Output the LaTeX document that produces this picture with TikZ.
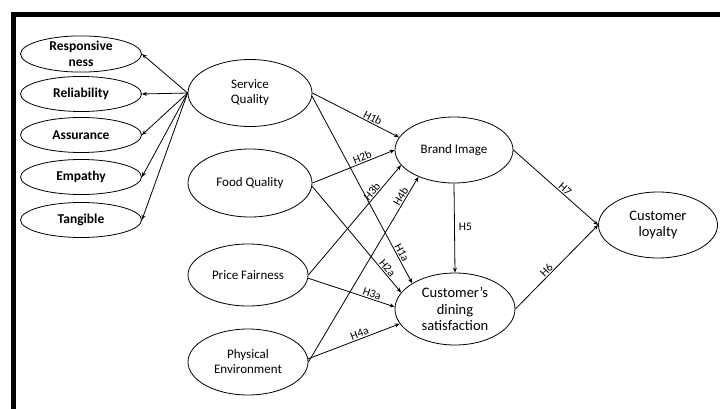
\documentclass[tikz,border=0pt]{standalone}
\usepackage{fontspec}
\setmainfont{Carlito}
\usetikzlibrary{shapes.geometric,arrows.meta}
\tikzset{
  ell/.style={draw, ellipse, line width=0.8pt, inner sep=0pt, align=center},
  dim/.style={ell, minimum width=121pt, minimum height=35pt, font=\bfseries\fontsize{13.5}{16}\selectfont},
  mid/.style={ell, minimum width=122pt, minimum height=66pt, font=\fontsize{13}{15}\selectfont},
  big/.style={ell, minimum width=119pt, minimum height=66pt, font=\fontsize{14.5}{16.7}\selectfont},
  arr/.style={line width=0.8pt, -{Stealth[length=5pt,width=4pt]}},
  hl/.style={font=\fontsize{11.5}{13}\selectfont, inner sep=1pt}
}
\begin{document}
\begin{tikzpicture}[x=1pt,y=-1pt]
\useasboundingbox (0,0) rectangle (720,409);
\draw[line width=5pt, line join=miter] (13.5,409) -- (13.5,14.5) -- (720,14.5);
% dimensions
\node[dim] (resp) at (81,54) {Responsive\\ness};
\node[dim] (reli) at (81,94) {Reliability};
\node[dim] (assu) at (81,135) {Assurance};
\node[dim] (empa) at (81,177) {Empathy};
\node[dim] (tang) at (81,220) {Tangible};
% constructs
\node[mid, minimum width=124pt, minimum height=67pt] (sq) at (250,93) {Service\\Quality};
\node[mid, minimum width=124pt, minimum height=68pt] (fq) at (250,183) {Food Quality};
\node[mid, minimum width=120pt, minimum height=62pt] (pf) at (248,275) {Price Fairness};
\node[mid, minimum width=120pt, minimum height=66pt] (pe) at (248,362) {Physical\\Environment};
\node[mid, minimum width=118pt, minimum height=66pt] (bi) at (454,150) {Brand Image};
\node[big, minimum width=120pt, minimum height=72pt] (cds) at (455,309) {Customer’s\\dining\\satisfaction};
\node[big] (cl) at (658,225) {Customer\\loyalty};
% measurement arrows
\foreach \t in {resp,reli,assu,empa,tang} \draw[arr] (sq.west) -- (\t.east);
% structural arrows
\draw[arr] (sq.east) -- (bi.167) node[hl, sloped, above, pos=0.67] {H1b};
\draw[arr] (sq.-3) -- (cds.149) node[hl, sloped, above, pos=0.85] {H1a};
\draw[arr] (fq.east) -- (bi.180) node[hl, sloped, above, pos=0.63] {H2b};
\draw[arr] (fq.-3) -- (cds.163) node[hl, sloped, above, pos=0.8] {H2a};
\draw[arr] (pf.east) -- (bi.196) node[hl, sloped, above, pos=0.73] {H3b};
\draw[arr] (pf.-3) -- (cds.178) node[hl, sloped, above, pos=0.72] {H3a};
\draw[arr] (pe.east) -- (bi.217) node[hl, sloped, above, pos=0.88] {H4b};
\draw[arr] (pe.3) -- (cds.195) node[hl, sloped, above, pos=0.58] {H4a};
\draw[arr] (bi.south) -- (cds.north) node[hl, right=3pt, pos=0.49] {H5};
\draw[arr] (bi.east) -- (cl.west) node[hl, sloped, above, pos=0.57] {H7};
\draw[arr] (cds.east) -- (cl.west) node[hl, sloped, above, pos=0.42] {H6};
\end{tikzpicture}
\end{document}
